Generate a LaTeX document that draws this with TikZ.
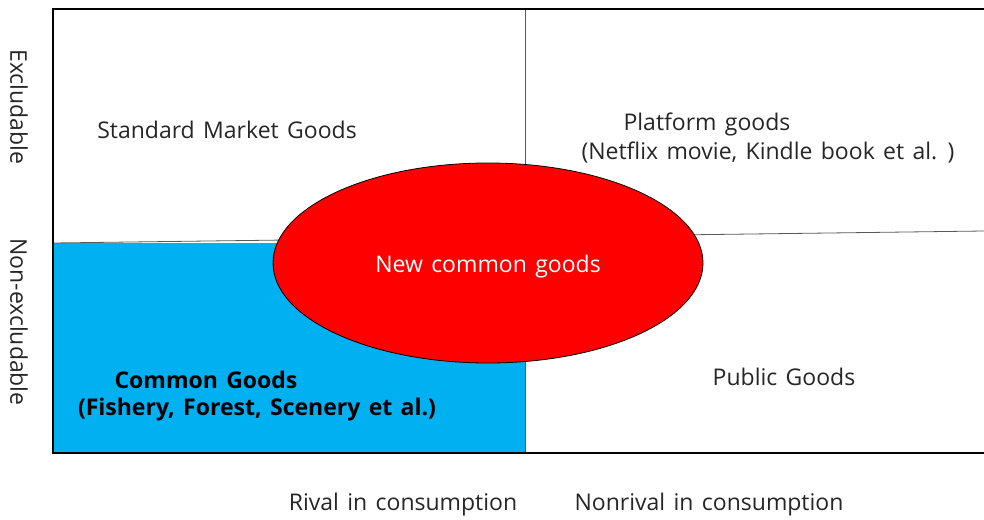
\documentclass[tikz,border=0pt]{standalone}
\usepackage{fontspec}
\setmainfont[WordSpace=1.4]{Open Sans}
\usetikzlibrary{shapes.geometric,positioning}

\definecolor{commonblue}{RGB}{0,176,240}

\begin{document}
\begin{tikzpicture}[x=1pt,y=-1pt]
\tikzstyle{label}=[font=\fontsize{23}{27}\selectfont, text=black!85, inner sep=0pt]
\tikzstyle{boldlabel}=[label, font=\fontsize{23}{27}\selectfont\bfseries, text=black]
\tikzstyle{divider}=[draw=black!65, line width=0.8pt]
\tikzstyle{frame}=[draw=black, line width=2pt]

\useasboundingbox (0,0) rectangle (984,519);

% quadrants
\fill[commonblue] (53,243) rectangle (525,453);
\draw[divider] (53,243) -- (984,231);
\draw[divider] (525,9) -- (525,453);
\draw[frame] (984,9) -- (53,9) -- (53,453) -- (984,453);

\node[ellipse, draw=black, line width=0.8pt, fill=red, minimum width=430, minimum height=200, inner sep=0pt] (oval) at (488,263) {};
\node[label, text=white] (new) at (488,267) {New common goods};

\node[label] (market) at (227,130) {Standard Market Goods};
\node[label] (platform) at (707,124) {Platform goods};
\node[label] (netflix) at (768,153) {(Netflix movie, Kindle book et al. )};
\node[label] (public) at (784,377) {Public Goods};
\node[boldlabel] (common) at (206,380) {Common Goods};
\node[boldlabel] (fishery) at (257,410) {(Fishery, Forest, Scenery et al.)};

% axis labels
\node[label] (rival) at (403,505) {Rival in consumption};
\node[label] (nonrival) at (709,505) {Nonrival in consumption};
\node[label, rotate=-90] (excl) at (19,107) {Excludable};
\node[label, rotate=-90] (nonexcl) at (19,322) {Non-excludable};
\end{tikzpicture}
\end{document}
